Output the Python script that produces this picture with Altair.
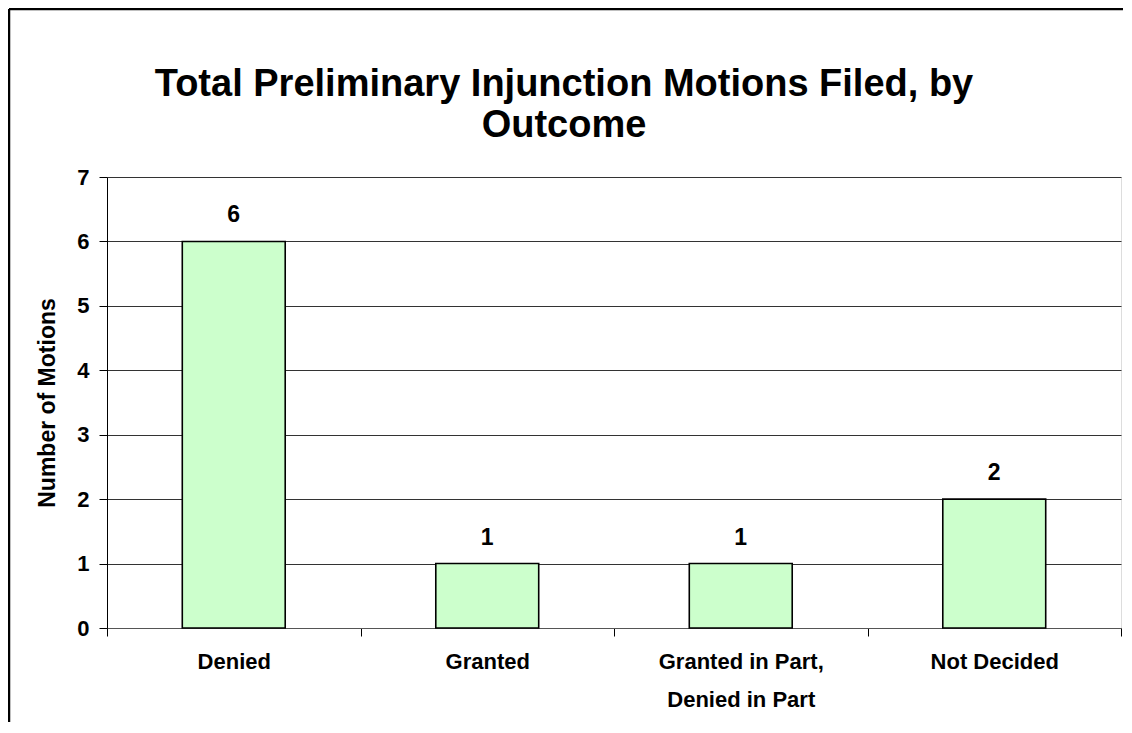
import altair as alt
import pandas as pd

# ---- data ----
categories = ["Denied", "Granted", "Granted in Part,\nDenied in Part", "Not Decided"]
counts = [6, 1, 1, 2]
title_lines = ["Total Preliminary Injunction Motions Filed, by", "Outcome"]
y_title = "Number of Motions"
y_ticks = [0, 1, 2, 3, 4, 5, 6, 7]

df = pd.DataFrame({"outcome": categories, "count": counts})
one = pd.DataFrame({"k": [0]})

W, H = 1014, 451
FONT = "Liberation Sans"

x_enc = alt.X(
    "outcome:N",
    sort=categories,
    scale=alt.Scale(paddingInner=0, paddingOuter=0),
    axis=alt.Axis(
        title=None,
        labelAngle=0,
        tickBand="extent",
        labelExpr="split(datum.label, '\\n')",
        labelFont=FONT,
        labelFontSize=22,
        labelFontWeight="bold",
        labelColor="black",
        labelPadding=15,
        labelLineHeight=38,
        labelBaseline="top",
        tickSize=8,
        tickColor="black",
        domainColor="#555555",
        domainWidth=1,
        grid=False,
    ),
)

y_scale = alt.Scale(domain=[0, 7], nice=False)

bars = alt.Chart(df).mark_bar(
    color="#CCFFCC", stroke="black", strokeWidth=1.6,
    width=alt.RelativeBandSize(0.406),
).encode(
    x=x_enc,
    y=alt.Y(
        "count:Q",
        scale=y_scale,
        axis=alt.Axis(
            title=y_title,
            values=y_ticks,
            format="d",
            titleFont=FONT,
            titleFontSize=23,
            titleFontWeight="bold",
            titleColor="black",
            titlePadding=17,
            labelFont=FONT,
            labelFontSize=22,
            labelFontWeight="bold",
            labelColor="black",
            labelPadding=10,
            tickSize=8,
            tickColor="black",
            domainColor="black",
            grid=True,
            gridColor="#333333",
            gridWidth=1,
        ),
    ),
)

labels = alt.Chart(df).mark_text(
    font=FONT, fontSize=23, fontWeight="bold", color="black",
    baseline="bottom", dy=-14,
).encode(
    x=alt.X("outcome:N", sort=categories),
    y=alt.Y("count:Q", scale=y_scale),
    text=alt.Text("count:Q"),
)

title = alt.Chart(one).mark_text(
    text=title_lines, font=FONT, fontSize=38, fontWeight="bold", color="black",
    align="center", baseline="middle", lineHeight=41,
).encode(x=alt.value(457), y=alt.value(-92))

frame_left = alt.Chart(one).mark_rule(
    color="black", strokeWidth=2.5, clip=False,
).encode(x=alt.value(-98), y=alt.value(-168), y2=alt.value(H + 94))

frame_top = alt.Chart(one).mark_rule(
    color="black", strokeWidth=2.5, clip=False,
).encode(x=alt.value(-98), x2=alt.value(W + 2), y=alt.value(-168))

chart = alt.layer(frame_left, frame_top, bars, labels, title).properties(
    width=W,
    height=H,
    padding={"left": 99, "top": 169, "right": 3, "bottom": 95},
    autosize=alt.AutoSizeParams(type="none"),
).configure_view(stroke=None).configure(background="white")

chart.save("out.html", embed_options={"renderer": "svg", "actions": False})
